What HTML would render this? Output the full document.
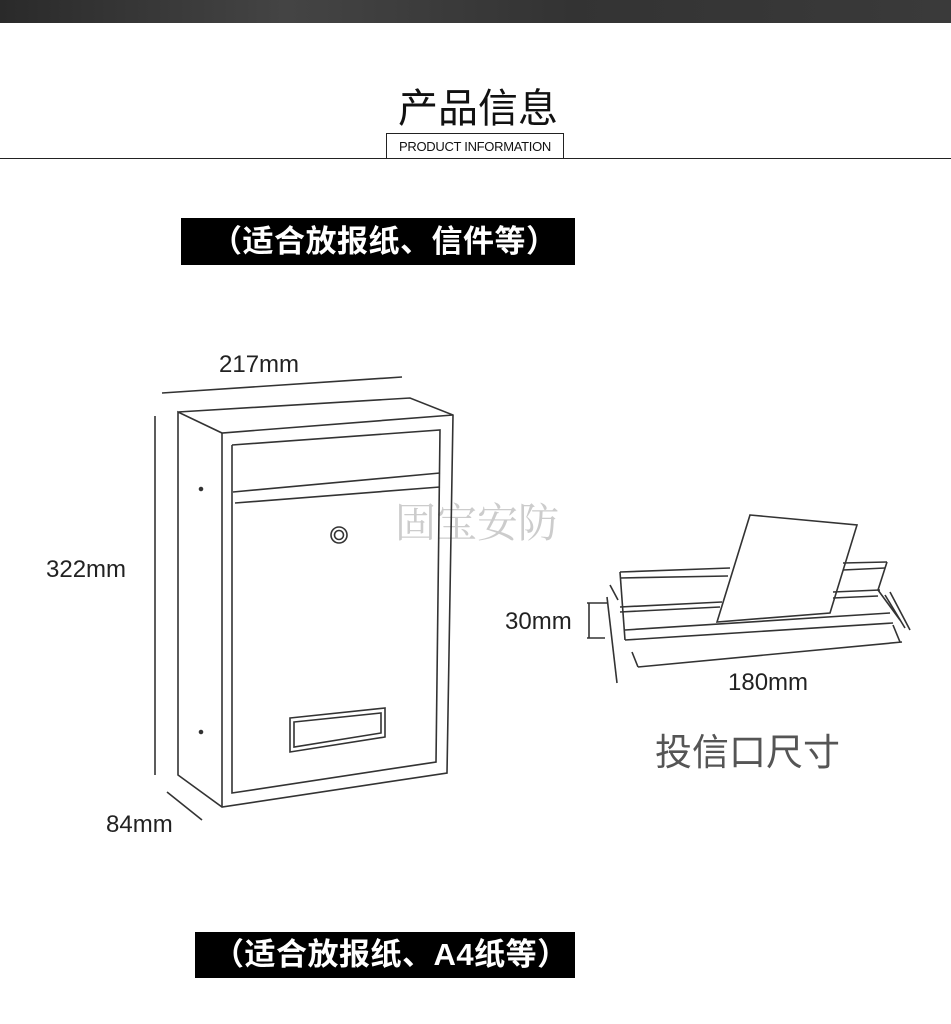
<!DOCTYPE html>
<html><head><meta charset="utf-8"><style>
body{margin:0;width:951px;height:1024px;background:#fff;overflow:hidden;position:relative;font-family:"Liberation Sans","Noto Sans CJK SC",sans-serif}
.t{position:absolute;white-space:nowrap}
</style></head><body>
<div style="position:absolute;left:0;top:0;width:951px;height:23px;background:linear-gradient(90deg,#2a2a2a,#444 30%,#333 60%,#3a3a3a)"></div>
<div class="t" style="left:398px;top:76px;font-size:40px;color:#111">产品信息</div>
<div style="position:absolute;left:0;top:158px;width:951px;height:1px;background:#222"></div>
<div class="t" style="left:386px;top:133px;width:176px;height:24px;border:1px solid #222;border-bottom:none;background:#fff;font-size:13px;line-height:26px;text-align:center;color:#111;letter-spacing:-0.3px">PRODUCT INFORMATION</div>
<div class="t" style="left:181px;top:218px;width:394px;height:47px;background:#000;color:#fff;font-weight:bold;font-size:31px;line-height:47px;padding-left:30px;box-sizing:border-box;letter-spacing:0.5px">（适合放报纸、信件等）</div>
<div class="t" style="left:195px;top:932px;width:380px;height:46px;background:#000;color:#fff;font-weight:bold;font-size:31px;line-height:46px;padding-left:18px;box-sizing:border-box;letter-spacing:0.5px">（适合放报纸、A4纸等）</div>
<div class="t" style="left:219px;top:351px;font-size:24px;color:#222">217mm</div>
<div class="t" style="left:46px;top:556px;font-size:24px;color:#222">322mm</div>
<div class="t" style="left:106px;top:811px;font-size:24px;color:#222">84mm</div>
<div class="t" style="left:505px;top:608px;font-size:24px;color:#222">30mm</div>
<div class="t" style="left:728px;top:669px;font-size:24px;color:#222">180mm</div>
<div class="t" style="left:655px;top:722px;font-size:37px;color:#555">投信口尺寸</div>
<div class="t" style="left:395px;top:490px;font-size:41px;color:#ccc;font-family:'Liberation Serif','Noto Serif CJK SC',serif">固宝安防</div>
<svg width="951" height="1024" style="position:absolute;left:0;top:0" fill="none" stroke="#333" stroke-width="1.6">
<line x1="162" y1="393" x2="402" y2="377"/>
<line x1="155" y1="416" x2="155" y2="775"/>
<line x1="167" y1="792" x2="202" y2="820"/>
<polyline points="178,412 410,398 453,415 447,773 222,807 178,775 178,412 222,433 453,415"/>
<line x1="222" y1="433" x2="222" y2="807"/>
<polyline points="232,445 440,430 436,762 232,793 232,445"/>
<line x1="233" y1="492" x2="440" y2="473"/>
<line x1="235" y1="503" x2="440" y2="487"/>
<circle cx="339" cy="535" r="8"/><circle cx="339" cy="535" r="4.5"/>
<polygon points="290,718 385,708 385,737 290,752"/>
<polygon points="294,722 381,713 381,733 294,747"/>
<circle cx="201" cy="489" r="1.5" fill="#333"/><circle cx="201" cy="732" r="1.5" fill="#333"/>
<polygon points="750,515 857,525 830,613 717,622" fill="#fff"/>
<line x1="620" y1="572" x2="730" y2="568"/><line x1="620" y1="578" x2="728" y2="576"/>
<line x1="843" y1="563" x2="887" y2="562"/><line x1="843" y1="570" x2="885" y2="568"/>
<line x1="620" y1="607" x2="722" y2="602"/><line x1="620" y1="612" x2="720" y2="607"/>
<line x1="833" y1="592" x2="880" y2="590"/><line x1="833" y1="598" x2="878" y2="596"/>
<line x1="625" y1="630" x2="890" y2="613"/><line x1="625" y1="640" x2="893" y2="623"/>
<line x1="638" y1="667" x2="902" y2="642"/>
<line x1="620" y1="572" x2="625" y2="640"/><line x1="632" y1="652" x2="638" y2="667"/>
<line x1="607" y1="597" x2="617" y2="683"/>
<line x1="887" y1="562" x2="878" y2="590"/><line x1="878" y1="590" x2="900" y2="620"/>
<line x1="885" y1="595" x2="905" y2="628"/><line x1="890" y1="592" x2="910" y2="630"/>
<line x1="893" y1="625" x2="900" y2="642"/>
<line x1="610" y1="585" x2="618" y2="600"/>
<line x1="587" y1="603" x2="607" y2="603"/><line x1="589" y1="603" x2="589" y2="638"/><line x1="587" y1="638" x2="605" y2="638"/>
</svg>
</body></html>
